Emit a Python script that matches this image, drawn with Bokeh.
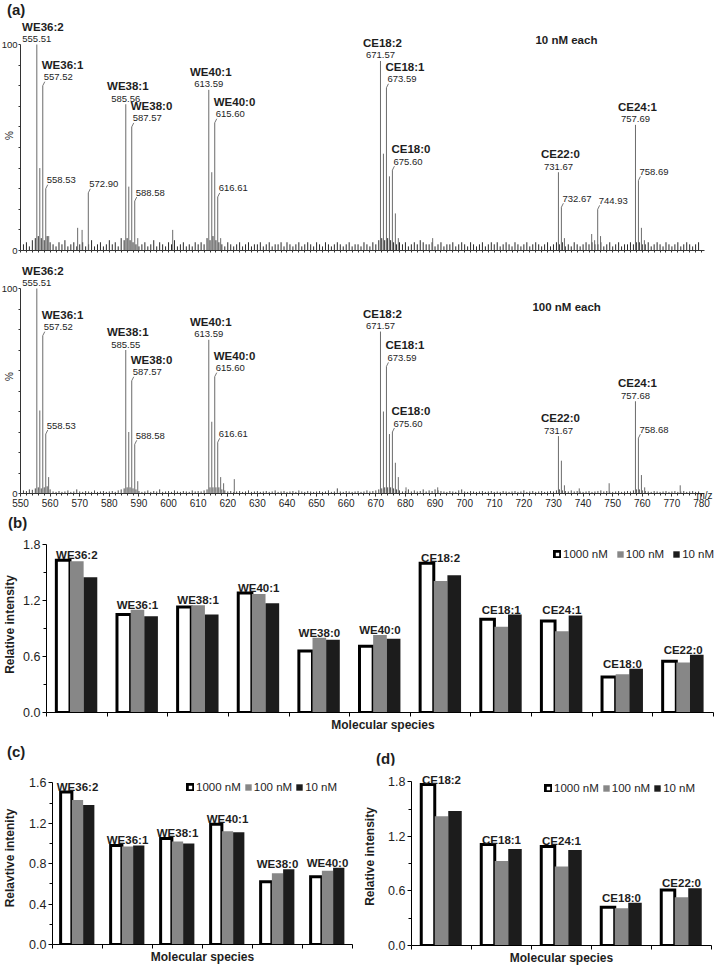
from bokeh.plotting import figure
from bokeh.models import (Range1d, FixedTicker, SingleIntervalTicker, Label, Legend,
                          LegendItem, NumeralTickFormatter, Div, Title)
from bokeh.layouts import column, row
from bokeh.core.properties import value
from bokeh.embed import file_html
from bokeh.resources import INLINE

FONT = "Liberation Sans"
TXT = "#1e1e1e"

# ======================= DATA =======================
# ---- panel (a): spectra, m/z and relative abundance (%) ----
top_peak_mz = [555.51, 556.52, 557.52, 558.53, 559.53, 569.3, 570.8, 572.90,
               585.56, 586.57, 587.57, 588.58, 589.6, 601.4,
               613.59, 614.60, 615.60, 616.61, 617.6,
               671.57, 672.57, 673.59, 674.60, 675.60, 676.60, 677.6, 689.2,
               731.67, 732.67, 733.7, 742.9, 743.9, 744.93, 745.9,
               757.69, 758.69, 759.7, 760.7]
top_peak_int = [100, 40, 80, 30, 7, 11, 10, 28,
                71, 31, 60, 24, 6, 10,
                78, 38, 62, 26, 6,
                92, 47, 79, 36, 39, 18, 6, 6,
                38, 21, 6, 8, 5, 20, 7,
                61, 34, 11, 5]
top_label_mz = [555.51, 557.52, 558.53, 572.90, 585.56, 587.57, 588.58, 613.59, 615.60,
                616.61, 671.57, 673.59, 675.60, 731.67, 732.67, 744.93, 757.69, 758.69]
top_label_name = ["WE36:2", "WE36:1", "", "", "WE38:1", "WE38:0", "", "WE40:1", "WE40:0",
                  "", "CE18:2", "CE18:1", "CE18:0", "CE22:0", "", "", "CE24:1", ""]
top_label_mode = ["c", "l", "l", "l", "c", "l", "l", "c", "l",
                  "l", "c", "l", "l", "c", "l", "l", "c", "l"]

bot_peak_mz = [555.51, 556.52, 557.52, 558.53, 559.5,
               585.55, 586.56, 587.57, 588.58, 589.6,
               613.59, 614.60, 615.60, 616.61, 617.6, 618.6, 622.2,
               671.57, 672.57, 673.59, 674.60, 675.60, 676.60, 677.6,
               680.2, 690.9,
               731.67, 732.67, 733.7, 738.7, 748.8,
               757.68, 758.68, 759.7, 760.8, 772.8]
bot_peak_int = [100, 40.5, 77, 29, 8,
                70, 30, 55, 24, 6,
                75, 35, 57, 25, 8, 5, 7,
                79, 40, 62, 29, 30, 15, 8,
                3, 3,
                28, 16, 4, 2.5, 5,
                45, 27, 9, 3, 4]
bot_label_mz = [555.51, 557.52, 558.53, 585.55, 587.57, 588.58, 613.59, 615.60, 616.61,
                671.57, 673.59, 675.60, 731.67, 757.68, 758.68]
bot_label_name = ["WE36:2", "WE36:1", "", "WE38:1", "WE38:0", "", "WE40:1", "WE40:0", "",
                  "CE18:2", "CE18:1", "CE18:0", "CE22:0", "CE24:1", ""]
bot_label_mode = ["c", "l", "l", "c", "l", "l", "c", "l", "l",
                  "c", "l", "l", "c", "c", "l"]

# baseline noise at nominal masses 551..779 (% of base peak)
noise_mz = list(range(551, 780))
top_noise = [3, 4, 2, 5, 6, 7, 6, 5, 7, 4, 3, 2, 4, 3, 5, 2, 3, 4, 2, 3,
             4, 2, 3, 5, 2, 3, 4, 2, 3, 5, 3, 4, 2, 6, 5, 6, 5, 4, 3, 2,
             3, 4, 2, 3, 5, 2, 4, 3, 2, 4, 3, 5, 2, 3, 4, 2, 3, 2, 4, 3,
             4, 3, 6, 5, 7, 5, 4, 3, 2, 4, 3, 2, 3, 4, 2, 3, 4, 2, 3, 3,
             4, 2, 3, 4, 2, 3, 3, 4, 2, 4, 3, 2, 3, 4, 2, 3, 4, 3, 2, 4,
             3, 2, 4, 3, 2, 3, 4, 3, 2, 3, 4, 2, 3, 3, 2, 4, 3, 2, 4, 3,
             5, 6, 5, 6, 5, 4, 3, 4, 3, 4, 2, 3, 4, 3, 5, 4, 3, 3, 4, 2,
             3, 4, 2, 3, 3, 4, 2, 3, 4, 3, 2, 4, 3, 2, 3, 4, 2, 3, 4, 3,
             4, 2, 3, 4, 3, 2, 4, 3, 2, 3, 4, 2, 3, 4, 3, 2, 3, 4, 2, 3,
             4, 3, 4, 2, 3, 2, 4, 3, 2, 3, 4, 3, 4, 3, 3, 4, 2, 3, 4, 2,
             3, 4, 2, 3, 3, 4, 3, 4, 4, 3, 3, 4, 2, 3, 4, 3, 2, 4, 3, 2,
             3, 4, 2, 3, 4, 3, 2, 3, 4]
bot_noise = [1.5, 1.2, 2.0, 1.8, 2.5, 3.0, 2.5, 3.0, 3.5, 2.0, 1.0, 0.8, 1.2, 0.8, 1.0, 1.5, 0.8, 1.0, 2.0, 1.0,
             0.8, 1.2, 1.0, 0.8, 1.5, 0.8, 1.0, 1.2, 0.8, 1.0, 1.2, 0.8, 1.5, 2.0, 2.5, 3.0, 3.0, 2.5, 2.0, 1.2,
             0.8, 1.0, 1.5, 0.8, 1.2, 1.0, 2.0, 0.8, 1.0, 1.2, 0.8, 1.5, 1.0, 0.8, 1.2, 1.0, 0.8, 1.5, 1.0, 1.2,
             1.0, 1.5, 2.0, 3.0, 3.0, 3.0, 3.0, 2.0, 1.5, 1.0, 1.2, 0.8, 1.0, 1.2, 0.8, 1.0, 1.5, 0.8, 1.0, 1.2,
             0.8, 1.0, 1.2, 0.8, 1.0, 1.5, 0.8, 1.0, 1.2, 0.8, 1.0, 1.2, 0.8, 1.5, 1.0, 0.8, 1.2, 1.0, 0.8, 1.0,
             1.2, 0.8, 1.0, 1.5, 0.8, 1.0, 2.5, 1.0, 0.8, 1.2, 1.0, 0.8, 1.0, 1.2, 0.8, 1.0, 1.5, 1.0, 1.2, 1.5,
             2.0, 2.5, 3.0, 3.0, 3.0, 2.5, 2.0, 1.5, 1.0, 1.2, 2.0, 1.0, 1.5, 1.0, 1.2, 2.0, 1.0, 1.5, 1.2, 2.0,
             1.5, 1.2, 1.0, 0.8, 1.2, 1.0, 0.8, 1.5, 2.0, 1.0, 0.8, 1.2, 1.0, 0.8, 1.0, 1.2, 0.8, 1.0, 1.2, 0.8,
             1.0, 0.8, 1.2, 1.0, 0.8, 1.0, 1.2, 0.8, 1.0, 1.5, 0.8, 1.0, 1.2, 0.8, 1.0, 1.2, 0.8, 1.0, 1.2, 1.0,
             1.5, 2.0, 1.5, 1.2, 1.0, 1.5, 1.0, 1.2, 1.0, 0.8, 1.0, 1.2, 0.8, 1.0, 1.2, 1.5, 1.0, 1.2, 1.0, 0.8,
             1.0, 1.2, 0.8, 1.0, 1.2, 1.0, 1.5, 2.0, 2.0, 1.5, 1.2, 1.0, 0.8, 1.2, 1.0, 0.8, 1.0, 1.2, 0.8, 1.0,
             1.2, 0.8, 1.0, 1.2, 0.8, 1.0, 1.2, 0.8, 1.0]

# ---- panels (b), (c), (d): relative intensity ----
conc_labels = ["1000 nM", "100 nM", "10 nM"]

b_species = ["WE36:2", "WE36:1", "WE38:1", "WE40:1", "WE38:0", "WE40:0",
             "CE18:2", "CE18:1", "CE24:1", "CE18:0", "CE22:0"]
b_1000 = [1.63, 1.05, 1.13, 1.28, 0.66, 0.71, 1.60, 1.00, 0.98, 0.38, 0.55]
b_100 = [1.62, 1.10, 1.15, 1.27, 0.80, 0.83, 1.41, 0.92, 0.87, 0.41, 0.535]
b_10 = [1.45, 1.03, 1.05, 1.17, 0.78, 0.79, 1.47, 1.05, 1.04, 0.47, 0.62]

c_species = ["WE36:2", "WE36:1", "WE38:1", "WE40:1", "WE38:0", "WE40:0"]
c_1000 = [1.51, 0.98, 1.05, 1.19, 0.62, 0.67]
c_100 = [1.43, 0.97, 1.02, 1.12, 0.705, 0.73]
c_10 = [1.38, 0.98, 1.00, 1.11, 0.745, 0.76]

d_species = ["CE18:2", "CE18:1", "CE24:1", "CE18:0", "CE22:0"]
d_1000 = [1.77, 1.11, 1.09, 0.42, 0.61]
d_100 = [1.42, 0.93, 0.87, 0.41, 0.53]
d_10 = [1.48, 1.06, 1.05, 0.47, 0.63]

# ======================= STYLE / LAYOUT =======================
MZ_START, MZ_LAST = 550, 780
SPEC_LEFT, SPEC_RIGHT = 18, 16
SPEC_FRAME_W = 718 - SPEC_LEFT - SPEC_RIGHT
PX_PER_MZ = 2.961
MZ_END = MZ_START + SPEC_FRAME_W / PX_PER_MZ


def style_common(p):
    p.xgrid.visible = False
    p.ygrid.visible = False
    p.outline_line_color = None
    p.background_fill_color = "white"
    p.border_fill_color = "white"


def panel_div(text, width, height, pad_top, pad_left):
    html = (f'<div style="padding:{pad_top}px 0 0 {pad_left}px;font-family:\'{FONT}\';'
            f'font-weight:bold;font-size:15px;line-height:15px;color:{TXT};">{text}</div>')
    return Div(text=html, width=width, height=height, margin=(0, 0, 0, 0))


def spectrum(peak_mz, peak_int, noise_int, lab_mz, lab_name, lab_mode, *, top, bottom,
             frame_h, px_pct, show_xlabels, note, note_xy, noise_color):
    yend = frame_h / px_pct
    p = figure(frame_width=SPEC_FRAME_W, frame_height=frame_h,
               x_range=Range1d(MZ_START, MZ_END), y_range=Range1d(0, yend),
               output_backend="svg", toolbar_location=None,
               min_border_left=SPEC_LEFT, min_border_right=SPEC_RIGHT,
               min_border_top=top, min_border_bottom=bottom)
    style_common(p)
    p.segment(x0=noise_mz, y0=[0] * len(noise_mz), x1=noise_mz, y1=noise_int,
              line_color=noise_color, line_width=0.9)
    p.segment(x0=peak_mz, y0=[0] * len(peak_mz), x1=peak_mz, y1=peak_int,
              line_color="#6b6b6b", line_width=1)

    hmap = dict(zip(peak_mz, peak_int))
    dx = 2 / PX_PER_MZ
    dy = 4 / px_pct
    for mode, align, xo_v, yo_v in (("c", "center", 0, -5.5), ("l", "left", 1, -8.5)):
        sel = [i for i, m in enumerate(lab_mode) if m == mode]
        xs = [lab_mz[i] for i in sel]
        ys = [hmap[lab_mz[i]] for i in sel]
        p.text(x=xs, y=ys, text=[f"{x:.2f}" for x in xs], x_offset=xo_v, y_offset=yo_v,
               text_align=align, text_baseline="middle", text_font=value(FONT),
               text_font_size="9.5px", text_color=TXT)
        nsel = [i for i in sel if lab_name[i]]
        nx = [lab_mz[i] for i in nsel]
        if mode == "c":
            # keep centred names inside the plotting frame
            n_off = [max(2.0, 0.31 * 11.5 * len(lab_name[i]) - (lab_mz[i] - MZ_START) * PX_PER_MZ + 1)
                     for i in nsel]
        else:
            n_off = [-1.0] * len(nsel)
        p.text(x=nx, y=[hmap[m] for m in nx], text=[lab_name[i] for i in nsel],
               x_offset=n_off, y_offset=yo_v - 12.5,
               text_align=align, text_baseline="middle", text_font=value(FONT),
               text_font_style="bold", text_font_size="11.5px", text_color=TXT)
        if mode == "l":
            p.segment(x0=xs, y0=ys, x1=[x + dx for x in xs], y1=[y + dy for y in ys],
                      line_color="#555555", line_width=0.8)

    p.add_layout(Label(x=note_xy[0], y=note_xy[1], text=note, text_align="left",
                       text_baseline="middle", text_font=FONT, text_font_style="bold",
                       text_font_size="11.5px", text_color=TXT))

    ya = p.yaxis[0]
    ya.ticker = FixedTicker(ticks=[0, 100], minor_ticks=list(range(10, 100, 10)))
    ya.bounds = (0, 100)
    ya.axis_label = "%"
    ya.axis_label_standoff = -16
    xa = p.xaxis[0]
    if show_xlabels:
        xa.ticker = SingleIntervalTicker(interval=10, num_minor_ticks=5)
    else:
        xa.ticker = FixedTicker(ticks=[], minor_ticks=list(range(MZ_START, MZ_LAST + 1, 2)))
    for ax in (xa, ya):
        ax.axis_line_color = "#333333"
        ax.major_tick_line_color = "#333333"
        ax.minor_tick_line_color = "#333333"
        ax.major_tick_out = 2 if ax is ya else 3
        ax.major_tick_in = 0
        ax.minor_tick_out = 2
        ax.minor_tick_in = 0
        ax.major_label_standoff = 1 if ax is ya else 2
        ax.major_label_text_font = FONT
        ax.major_label_text_font_size = "9.5px" if ax is ya else "10px"
        ax.major_label_text_color = TXT
        ax.axis_label_text_font = FONT
        ax.axis_label_text_font_style = "normal"
        ax.axis_label_text_font_size = "10px"
        ax.axis_label_text_color = TXT
    if not show_xlabels:
        xa.major_label_standoff = 0
    else:
        try:
            xa.axis_label_align = "end"
            xa.axis_label = "m/z"
            xa.axis_label_standoff = -20
        except Exception:
            t = Title(text="m/z", align="right", text_font=FONT, text_font_size="10px",
                      text_font_style="normal", text_color=TXT, standoff=-20)
            p.add_layout(t, "below")
    return p


def bars(species, v1000, v100, v10, *, frame_w, frame_h, xend, left, right, top, bottom,
         px_unit, yticks, yminor, ylabel, ylabel_standoff, legend_xy, legend_spacing):
    n = len(species)
    yend = frame_h / px_unit
    p = figure(frame_width=frame_w, frame_height=frame_h,
               x_range=Range1d(0, xend), y_range=Range1d(0, yend),
               output_backend="svg", toolbar_location=None,
               min_border_left=left, min_border_right=right,
               min_border_top=top, min_border_bottom=bottom)
    style_common(p)
    centers = [i + 0.5 for i in range(n)]
    w = 0.225
    r1 = p.vbar(x=[c - w for c in centers], top=v1000, width=w, bottom=0,
                fill_color="white", line_color="black", line_width=3, line_join="miter")
    r2 = p.vbar(x=centers, top=v100, width=w, bottom=0, fill_color="#878787", line_color=None)
    r3 = p.vbar(x=[c + w for c in centers], top=v10, width=w, bottom=0,
                fill_color="#1c1c1c", line_color=None)
    tops = [max(a, b, c) for a, b, c in zip(v1000, v100, v10)]
    p.text(x=centers, y=tops, text=species, y_offset=-5, text_align="center",
           text_baseline="alphabetic", text_font=value(FONT), text_font_style="bold",
           text_font_size="11.5px", text_color=TXT)

    ya = p.yaxis[0]
    ya.ticker = FixedTicker(ticks=yticks, minor_ticks=yminor)
    ya.bounds = (0, yticks[-1])
    ya.formatter = NumeralTickFormatter(format="0.0")
    ya.axis_label = ylabel
    ya.axis_label_standoff = ylabel_standoff
    xa = p.xaxis[0]
    xa.ticker = FixedTicker(ticks=[], minor_ticks=list(range(n + 1)))
    xa.bounds = (0, n)
    xa.axis_label = "Molecular species"
    xa.axis_label_standoff = 1
    xa.major_label_standoff = 0
    for ax in (xa, ya):
        ax.axis_line_color = "black"
        ax.major_tick_line_color = "black"
        ax.minor_tick_line_color = "black"
        ax.major_tick_out = 4
        ax.major_tick_in = 0
        ax.minor_tick_out = 4 if ax is xa else 3
        ax.minor_tick_in = 0
        ax.axis_label_text_font = FONT
        ax.axis_label_text_font_style = "bold"
        ax.axis_label_text_font_size = "12px"
        ax.axis_label_text_color = TXT
    ya.major_label_text_font = FONT
    ya.major_label_text_font_size = "12.5px"
    ya.major_label_text_color = TXT
    ya.major_label_standoff = 2

    legend = Legend(items=[LegendItem(label=value(conc_labels[0]), renderers=[r1]),
                           LegendItem(label=value(conc_labels[1]), renderers=[r2]),
                           LegendItem(label=value(conc_labels[2]), renderers=[r3])],
                    location=legend_xy, orientation="horizontal",
                    glyph_width=8, glyph_height=8, label_standoff=2,
                    spacing=legend_spacing, padding=0, margin=0,
                    label_text_font=FONT, label_text_font_size="11.5px",
                    label_text_color=TXT, label_height=12,
                    border_line_color=None, background_fill_alpha=0)
    p.add_layout(legend)
    return p


pa1 = spectrum(top_peak_mz, top_peak_int, top_noise, top_label_mz, top_label_name,
               top_label_mode, top=1, bottom=5, frame_h=230, px_pct=2.06,
               show_xlabels=False, note="10 nM each", note_xy=(723.9, 102.4),
               noise_color="#111111")
pa2 = spectrum(bot_peak_mz, bot_peak_int, bot_noise, bot_label_mz, bot_label_name,
               bot_label_mode, top=4, bottom=17, frame_h=234, px_pct=2.05,
               show_xlabels=True, note="100 nM each", note_xy=(722.9, 90.9),
               noise_color="#333333")

pb = bars(b_species, b_1000, b_100, b_10, frame_w=673, frame_h=176, xend=11.1,
          left=41, right=4, top=6, bottom=20, px_unit=93.33,
          yticks=[0, 0.6, 1.2, 1.8], yminor=[0.3, 0.9, 1.5], ylabel="Relative intensity",
          ylabel_standoff=3, legend_xy=(507, 152), legend_spacing=8)
pc = bars(c_species, c_1000, c_100, c_10, frame_w=300, frame_h=173, xend=6,
          left=48, right=7, top=2, bottom=20, px_unit=101.06,
          yticks=[0, 0.4, 0.8, 1.2, 1.6], yminor=[0.2, 0.6, 1.0, 1.4],
          ylabel="Relavtive intenity", ylabel_standoff=9, legend_xy=(134, 151),
          legend_spacing=3)
pd = bars(d_species, d_1000, d_100, d_10, frame_w=300, frame_h=178, xend=5,
          left=52, right=11, top=2, bottom=20, px_unit=90.94,
          yticks=[0, 0.6, 1.2, 1.8], yminor=[0.3, 0.9, 1.5], ylabel="Relative intensity",
          ylabel_standoff=8, legend_xy=(133, 151), legend_spacing=3)

div_a = panel_div("(a)", 60, 19, 2, 7)
div_b = panel_div("(b)", 60, 20, 5, 8)
div_c = panel_div("(c)", 60, 35, 10, 7)
div_d = panel_div("(d)", 60, 31, 17, 17)

layout = column(div_a, row(pa1), row(pa2), div_b, row(pb),
                row(column(div_c, pc), column(div_d, pd)))

with open("out.html", "w") as f:
    f.write(file_html(layout, INLINE))
